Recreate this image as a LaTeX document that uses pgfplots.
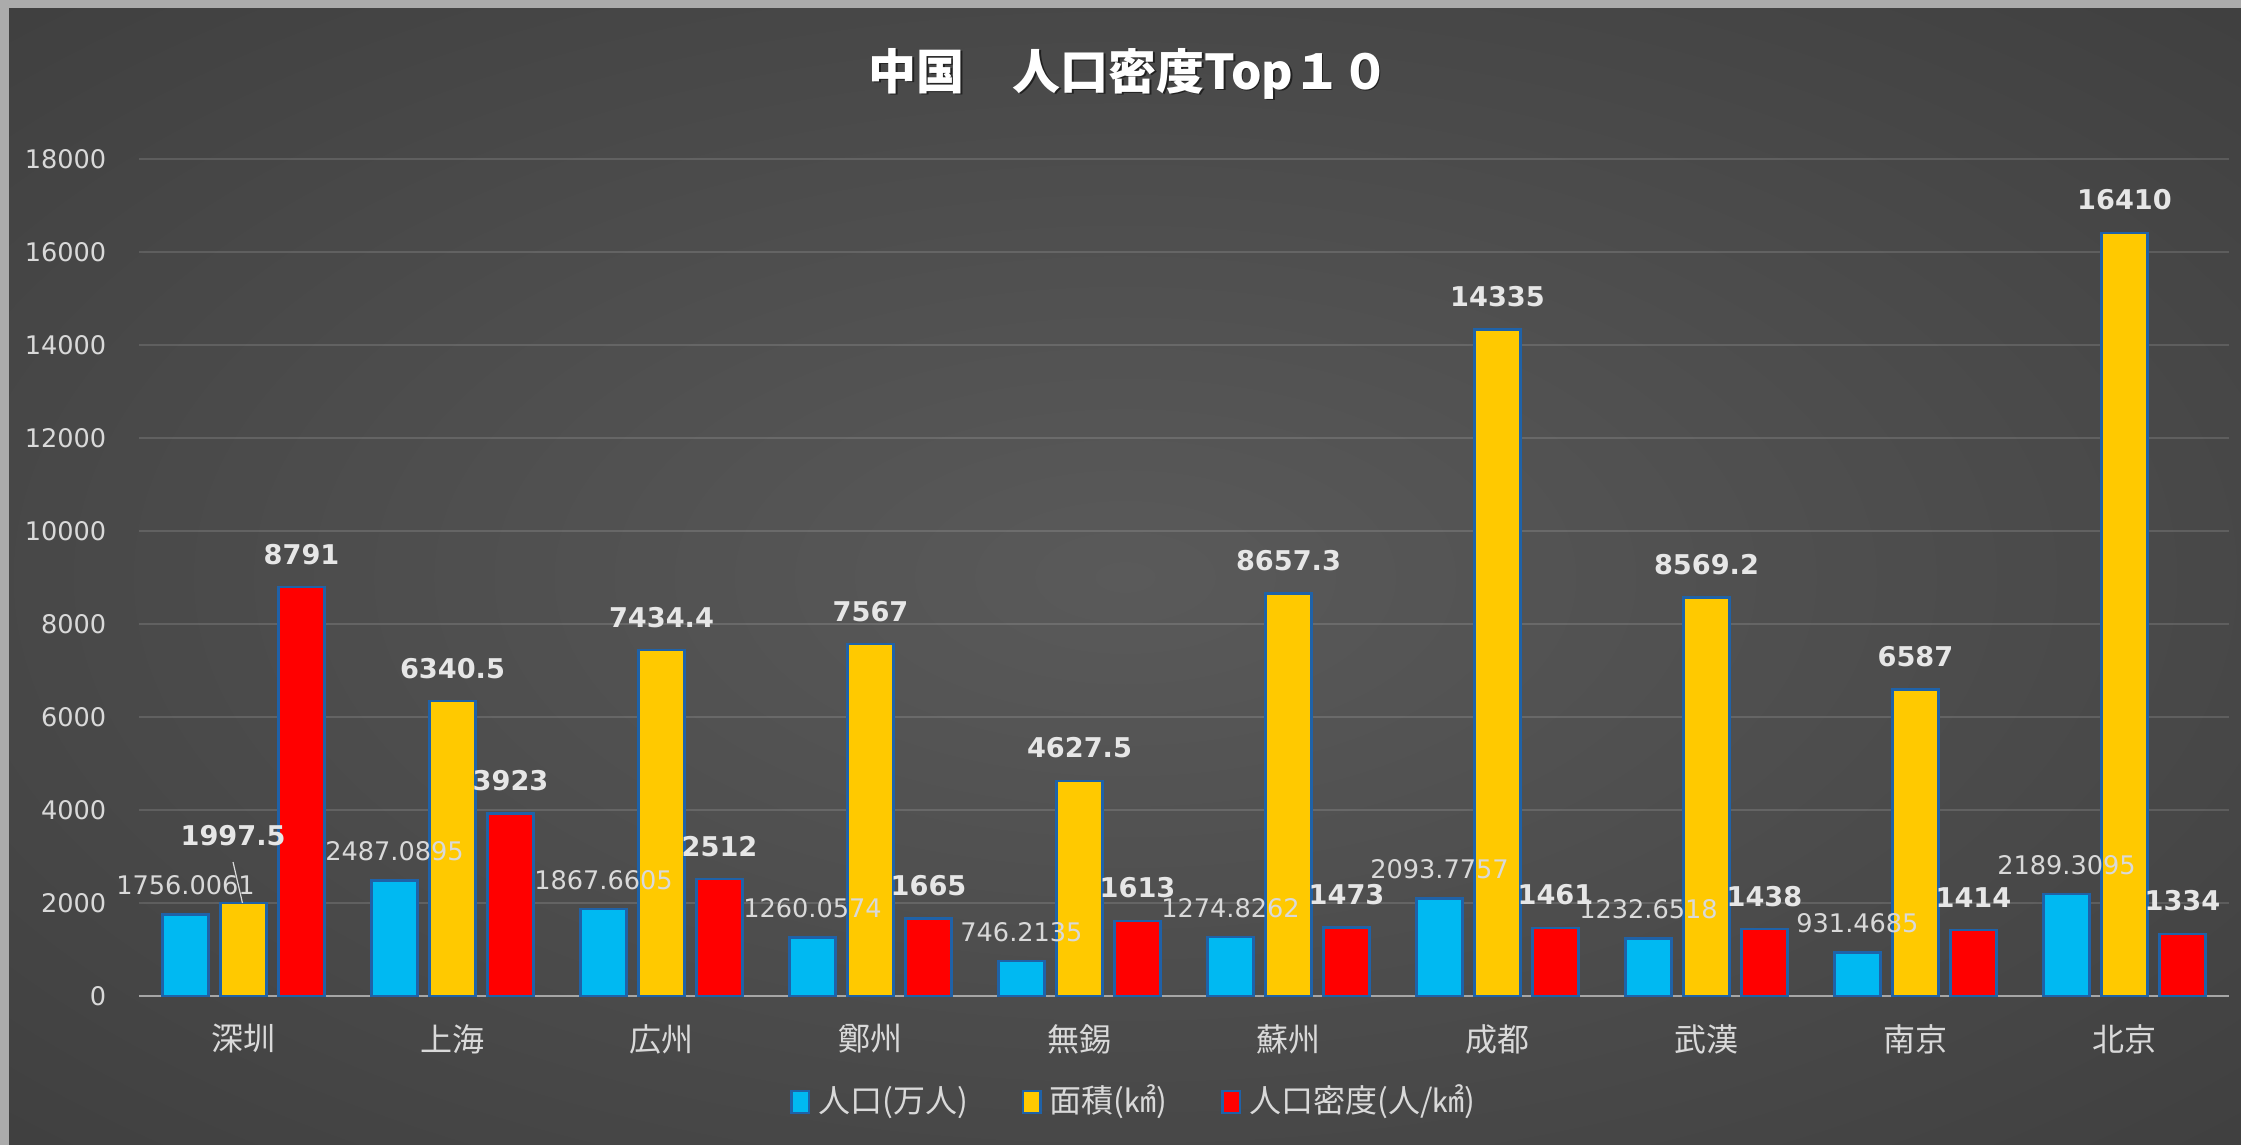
\documentclass[border=0pt]{standalone}
\usepackage{pgfplots}
\pgfplotsset{compat=1.18}
\usepackage{pgfplotstable}
\usepackage{fontspec}
\setmainfont{DejaVu Sans}
\newfontfamily\jp{Noto Sans CJK JP}
\definecolor{cyanbar}{HTML}{00B9F2}
\definecolor{yellowbar}{HTML}{FFC900}
\definecolor{redbar}{HTML}{FF0000}
\definecolor{barborder}{HTML}{1F62A8}
\definecolor{txt}{HTML}{D9D9D9}
\definecolor{txtb}{HTML}{E6E6E6}
\definecolor{framegray}{HTML}{ABABAB}
\definecolor{axisline}{HTML}{A6A6A6}
\definecolor{bgin}{HTML}{5A5A5A}
\definecolor{bgmid}{HTML}{404040}
\definecolor{bgout}{HTML}{2A2A2A}
\pgfdeclareradialshading{bgradial}{\pgfpoint{0bp}{0bp}}{color(0bp)=(bgin); color(35bp)=(bgmid); color(71bp)=(bgout)}

\pgfplotstableread{
x pop area dens adx ady
0 1756.0061 1997.5 8791 -2.6 16.75
1 2487.0895 6340.5 3923 0 8.25
2 1867.6605 7434.4 2512 0 8.25
3 1260.0574 7567 1665 0 8.25
4 746.2135 4627.5 1613 0 8.25
5 1274.8262 8657.3 1473 0 8.25
6 2093.7757 14335 1461 0 8.25
7 1232.6518 8569.2 1438 0 8.25
8 931.4685 6587 1414 0 8.25
9 2189.3095 16410 1334 0 8.25
}\data

\begin{document}
\begin{tikzpicture}
\fill[framegray] (0,0) rectangle (560.25pt,286.25pt);
\shade[shading=bgradial] (2.25pt,0) rectangle (560.25pt,284pt);
\node[font=\jp\bfseries\fontsize{12}{14}\selectfont, text=black, opacity=0.55] at (282.6pt,267.4pt) {中国　人口密度Top１０};
\node[font=\jp\bfseries\fontsize{12}{14}\selectfont, text=white] at (282.25pt,267.75pt) {中国　人口密度Top１０};
\begin{axis}[
  at={(34.75pt,37.25pt)}, anchor=south west,
  scale only axis, width=522.5pt, height=209.25pt,
  xmin=-0.5, xmax=9.5, ymin=0, ymax=18000,
  ybar=3pt, bar width=11.5pt,
  xtick={0,...,9},
  xticklabels={深圳,上海,広州,鄭州,無錫,蘇州,成都,武漢,南京,北京},
  ytick={0,2000,...,18000},
  yticklabels={0,2000,4000,6000,8000,10000,12000,14000,16000,18000},
  scaled y ticks=false,
  axis x line*=bottom, axis y line*=left,
  x axis line style={draw=axisline, line width=0.5pt, -},
  y axis line style={draw=none},
  major tick length=0pt,
  ymajorgrids, grid style={draw=white, opacity=0.13, line width=0.5pt},
  xticklabel style={font=\jp\fontsize{8}{9}\selectfont, text=txt, anchor=center, yshift=-10.75pt},
  yticklabel style={font=\fontsize{6.4}{7}\selectfont, text=txt, anchor=east, inner sep=0pt, xshift=-8pt},
  legend style={at={(0.4775,-0.1266)}, anchor=center, legend columns=-1, draw=none, fill=none, text=txt, font=\jp\fontsize{8}{9}\selectfont, /tikz/every even column/.append style={column sep=11.5pt}},
  legend image code/.code={\draw[#1,line width=0.6pt] (0pt,-2.7pt) rectangle (4.4pt,2.7pt);},
  point meta=explicit symbolic,
  nodes near coords,
  clip=false,
]
\addplot[fill=cyanbar, draw=barborder, line width=0.6pt,
  every node near coord/.append style={font=\fontsize{6.4}{7}\selectfont, text=txt, anchor=center, yshift=7.25pt}]
  table[x=x, y=pop, meta=pop] {\data};
\addlegendentry{人口(万人)}
\addplot[fill=yellowbar, draw=barborder, line width=0.6pt,
  visualization depends on={\thisrow{adx} \as \ldx},
  visualization depends on={\thisrow{ady} \as \ldy},
  every node near coord/.append style={font=\bfseries\fontsize{6.8}{8}\selectfont, text=txtb, anchor=center, xshift=\ldx pt, yshift=\ldy pt}]
  table[x=x, y=area, meta=area] {\data};
\addlegendentry{面積(㎢)}
\addplot[fill=redbar, draw=barborder, line width=0.6pt,
  every node near coord/.append style={font=\bfseries\fontsize{6.8}{8}\selectfont, text=txtb, anchor=center, yshift=8.25pt}]
  table[x=x, y=dens, meta=dens] {\data};
\addlegendentry{人口密度(人/㎢)}
\draw[txt, line width=0.3pt] (axis cs:-0.05,2880) -- (axis cs:-0.005,2000);
\end{axis}
\pgfresetboundingbox
\useasboundingbox (0,0) rectangle (560.25pt,286.25pt);
\end{tikzpicture}
\end{document}
